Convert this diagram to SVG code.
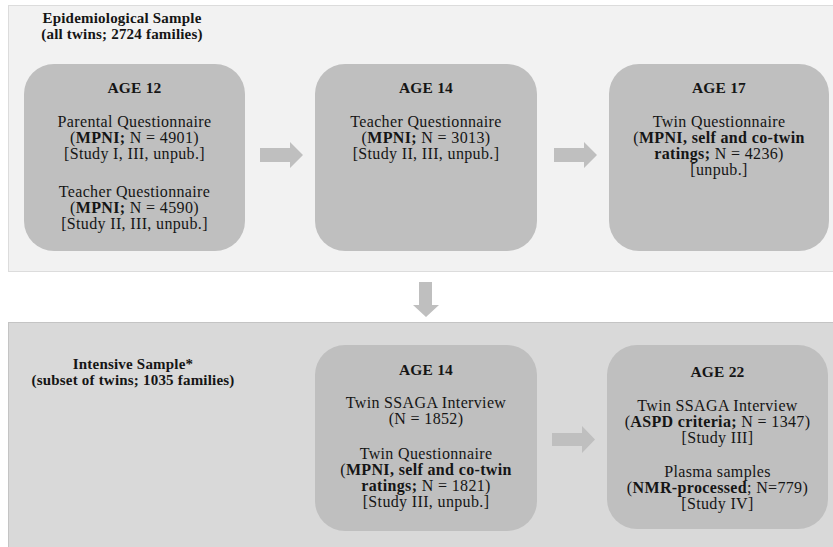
<svg xmlns="http://www.w3.org/2000/svg" width="833" height="547" viewBox="0 0 833 547">
<style>
text{font-family:"Liberation Serif","Times New Roman",serif;fill:#151515;text-anchor:middle}
.h{font-size:15px;font-weight:bold;letter-spacing:0.2px}
.t{font-size:15.5px;font-weight:bold;letter-spacing:0.2px}
.b{font-size:16px;letter-spacing:0.35px}
.bold{font-weight:bold}
.box{fill:#bfbfbf}
.arr{fill:#bfbfbf}
</style>
<g id="panel-epidemiological">
<rect x="8.5" y="5.5" width="830" height="266" fill="#f2f2f2" stroke="#dcdcdc" stroke-width="1"/>
<text class="h" x="122" y="23">Epidemiological Sample</text>
<text class="h" x="122" y="39">(all twins; 2724 families)</text>
</g>
<g id="panel-intensive">
<rect x="8.5" y="322.5" width="830" height="230" fill="#d9d9d9" stroke="#c4c4c4" stroke-width="1"/>
<text class="h" x="133" y="369">Intensive Sample*</text>
<text class="h" x="133" y="385">(subset of twins; 1035 families)</text>
</g>
<g id="connectors">
<polygon class="arr" points="260,148 290,148 290,142 303,155 290,168 290,162 260,162"/>
<polygon class="arr" points="554,148 584,148 584,142 597,155 584,168 584,162 554,162"/>
<polygon class="arr" points="419,282 432,282 432,305 439,305 426,317 413,305 419,305"/>
<polygon class="arr" points="552,433 582,433 582,426 595,439.5 582,453 582,446 552,446"/>
</g>
<g id="age12">
<rect class="box" x="24" y="64" width="221" height="187" rx="30"/>
<text class="t" x="134.5" y="93">AGE 12</text>
<text class="b" x="134.5" y="127">Parental Questionnaire</text>
<text class="b" x="134.5" y="143">(<tspan class="bold">MPNI;</tspan> N = 4901)</text>
<text class="b" x="134.5" y="159">[Study I, III, unpub.]</text>
<text class="b" x="134.5" y="197">Teacher Questionnaire</text>
<text class="b" x="134.5" y="213">(<tspan class="bold">MPNI;</tspan> N = 4590)</text>
<text class="b" x="134.5" y="229">[Study II, III, unpub.]</text>
</g>
<g id="age14-epi">
<rect class="box" x="315" y="64" width="222" height="187" rx="30"/>
<text class="t" x="426" y="93">AGE 14</text>
<text class="b" x="426" y="127">Teacher Questionnaire</text>
<text class="b" x="426" y="143">(<tspan class="bold">MPNI;</tspan> N = 3013)</text>
<text class="b" x="426" y="159">[Study II, III, unpub.]</text>
</g>
<g id="age17">
<rect class="box" x="609" y="64" width="220" height="187" rx="30"/>
<text class="t" x="719" y="93">AGE 17</text>
<text class="b" x="719" y="127">Twin Questionnaire</text>
<text class="b" x="719" y="143">(<tspan class="bold">MPNI, self and co-twin</tspan></text>
<text class="b" x="719" y="159"><tspan class="bold">ratings;</tspan> N = 4236)</text>
<text class="b" x="719" y="175">[unpub.]</text>
</g>
<g id="age14-int">
<rect class="box" x="315" y="345" width="222" height="186" rx="30"/>
<text class="t" x="426" y="375">AGE 14</text>
<text class="b" x="426" y="408">Twin SSAGA Interview</text>
<text class="b" x="426" y="424">(N = 1852)</text>
<text class="b" x="426" y="459">Twin Questionnaire</text>
<text class="b" x="426" y="475">(<tspan class="bold">MPNI, self and co-twin</tspan></text>
<text class="b" x="426" y="491"><tspan class="bold">ratings;</tspan> N = 1821)</text>
<text class="b" x="426" y="507">[Study III, unpub.]</text>
</g>
<g id="age22">
<rect class="box" x="607" y="345" width="221" height="184" rx="30"/>
<text class="t" x="717.5" y="377">AGE 22</text>
<text class="b" x="717.5" y="411">Twin SSAGA Interview</text>
<text class="b" x="717.5" y="427">(<tspan class="bold">ASPD criteria;</tspan> N = 1347)</text>
<text class="b" x="717.5" y="443">[Study III]</text>
<text class="b" x="717.5" y="477">Plasma samples</text>
<text class="b" x="717.5" y="493">(<tspan class="bold">NMR-processed</tspan>; N=779)</text>
<text class="b" x="717.5" y="509">[Study IV]</text>
</g>
</svg>
